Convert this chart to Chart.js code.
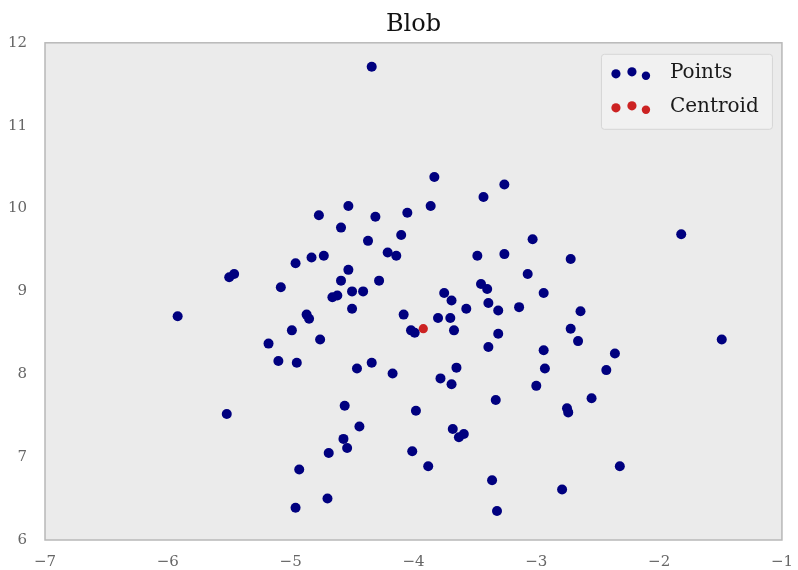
<!DOCTYPE html>
<html>
<head>
<meta charset="utf-8">
<title>Blob</title>
<script src="https://cdn.jsdelivr.net/npm/chart.js@4/dist/chart.umd.min.js"></script>
<style>
  html, body { margin: 0; padding: 0; background: #fff; }
  #wrap { width: 798px; height: 570px; }
</style>
</head>
<body>
<div id="wrap"><canvas id="chart" width="798" height="570"></canvas></div>
<script>
// ── Data ────────────────────────────────────────────────────────
const POINTS_X = [
  -4.34, -4.77, -4.53, -4.31, -4.59, -4.37, -4.10, -4.05, -3.86, -3.83,
  -4.21, -4.14, -4.96, -4.83, -4.73, -5.50, -5.46, -4.53, -4.59, -4.28,
  -5.08, -4.50, -4.41, -4.66, -4.62, -4.50, -5.92, -4.87, -4.85, -4.99,
  -5.18, -4.76, -5.10, -4.95, -4.46, -4.34, -4.17, -4.08, -5.52, -4.56,
  -4.44, -4.57, -4.54, -4.69, -4.93, -4.70, -4.96, -3.07, -3.45, -3.40,
  -2.94, -3.75, -3.69, -3.57, -3.39, -3.31, -3.14, -2.64, -3.80, -3.70,
  -4.02, -3.99, -3.67, -3.31, -2.72, -2.66, -1.49, -3.39, -2.94, -2.36,
  -3.65, -2.93, -2.43, -3.78, -3.69, -3.00, -2.55, -3.33, -3.98, -2.75,
  -2.74, -3.68, -3.63, -3.59, -4.01, -3.88, -2.32, -3.36, -2.79, -3.32,
  -3.26, -3.43, -3.03, -1.82, -3.48, -3.26, -2.72
];
const POINTS_Y = [
  11.71, 9.92, 10.03, 9.90, 9.77, 9.61, 9.68, 9.95, 10.03, 10.38,
  9.47, 9.43, 9.34, 9.41, 9.43, 9.17, 9.21, 9.26, 9.13, 9.13,
  9.05, 9.00, 9.00, 8.93, 8.95, 8.79, 8.70, 8.72, 8.67, 8.53,
  8.37, 8.42, 8.16, 8.14, 8.07, 8.14, 8.01, 8.72, 7.52, 7.62,
  7.37, 7.22, 7.11, 7.05, 6.85, 6.50, 6.39, 9.21, 9.09, 9.03,
  8.98, 8.98, 8.89, 8.79, 8.86, 8.77, 8.81, 8.76, 8.68, 8.68,
  8.53, 8.50, 8.53, 8.49, 8.55, 8.40, 8.42, 8.33, 8.29, 8.25,
  8.08, 8.07, 8.05, 7.95, 7.88, 7.86, 7.71, 7.69, 7.56, 7.59,
  7.54, 7.34, 7.24, 7.28, 7.07, 6.89, 6.89, 6.72, 6.61, 6.35,
  10.29, 10.14, 9.63, 9.69, 9.43, 9.45, 9.39
];
const CENTROID_X = [-3.92];
const CENTROID_Y = [8.55];

const X_TICKS = [-7, -6, -5, -4, -3, -2, -1];
const Y_TICKS = [6, 7, 8, 9, 10, 11, 12];
const SERIES_LABELS = ['Points', 'Centroid'];

// ── Styling ─────────────────────────────────────────────────────
const SERIF = '"DejaVu Serif", serif';
const BLUE = '#00007f';
const RED  = '#cc2222';

function toXY(xs, ys) {
  return xs.map(function (x, i) { return { x: x, y: ys[i] }; });
}

function minus(v) {
  return String(v).replace('-', '\u2212');
}

// ── Plot background + frame ─────────────────────────────────────
const framePlugin = {
  id: 'frame',
  beforeDatasetsDraw: function (chart) {
    const a = chart.chartArea, ctx = chart.ctx;
    ctx.save();
    ctx.fillStyle = '#ebebeb';
    ctx.fillRect(a.left, a.top, a.right - a.left, a.bottom - a.top);
    ctx.strokeStyle = '#b8b8b8';
    ctx.lineWidth = 1.5;
    ctx.strokeRect(a.left, a.top, a.right - a.left, a.bottom - a.top);
    ctx.restore();
  }
};

// ── Matplotlib-like legend with 3 scatter dots per entry ────────
const legendPlugin = {
  id: 'dotsLegend',
  afterDatasetsDraw: function (chart) {
    const a = chart.chartArea, ctx = chart.ctx;
    const w = 171, h = 75;
    const x0 = a.right - 10 - w, y0 = a.top + 11;
    ctx.save();
    ctx.fillStyle = 'rgba(242,242,242,0.9)';
    ctx.strokeStyle = '#d6d6d6';
    ctx.lineWidth = 1;
    ctx.beginPath();
    ctx.roundRect(x0 + 0.5, y0 + 0.5, w, h, 3);
    ctx.fill();
    ctx.stroke();

    const offs = [2, 0, 4];          // matplotlib style staggered dots
    const rads = [4.6, 4.6, 4.2];
    chart.data.datasets.forEach(function (ds, i) {
      const cy = y0 + 18 + i * 34;
      [15, 31, 45].forEach(function (dx, k) {
        ctx.beginPath();
        ctx.fillStyle = ds.backgroundColor;
        ctx.arc(x0 + dx, cy + offs[k], rads[k], 0, Math.PI * 2);
        ctx.fill();
      });
      ctx.fillStyle = '#1a1a1a';
      ctx.font = '20px ' + SERIF;
      ctx.textBaseline = 'middle';
      ctx.textAlign = 'left';
      ctx.fillText(ds.label, x0 + 69, cy + 1);
    });
    ctx.restore();
  }
};

new Chart(document.getElementById('chart'), {
  type: 'scatter',
  data: {
    datasets: [
      {
        label: SERIES_LABELS[0],
        data: toXY(POINTS_X, POINTS_Y),
        backgroundColor: BLUE,
        borderColor: BLUE,
        pointRadius: 5,
        pointBorderWidth: 0,
        order: 2
      },
      {
        label: SERIES_LABELS[1],
        data: toXY(CENTROID_X, CENTROID_Y),
        backgroundColor: RED,
        borderColor: RED,
        pointRadius: 4.6,
        pointBorderWidth: 0,
        order: 1
      }
    ]
  },
  options: {
    responsive: false,
    animation: false,
    events: [],
    layout: { padding: { right: 10, top: 0, left: 0, bottom: 0 } },
    plugins: {
      legend: { display: false },
      tooltip: { enabled: false },
      title: {
        display: true,
        text: 'Blob',
        fullSize: false,
        color: '#111',
        font: { family: SERIF, size: 24, weight: 'normal' },
        padding: { top: 10, bottom: 4 }
      }
    },
    scales: {
      x: {
        type: 'linear',
        min: X_TICKS[0],
        max: X_TICKS[X_TICKS.length - 1],
        afterBuildTicks: function (s) { s.ticks = X_TICKS.map(function (v) { return { value: v }; }); },
        afterFit: function (s) { s.height = 30; },
        grid: { display: false },
        border: { display: false },
        ticks: {
          padding: 5,
          color: '#666',
          font: { family: SERIF, size: 15 },
          callback: function (v) { return minus(v); }
        }
      },
      y: {
        type: 'linear',
        min: Y_TICKS[0],
        max: Y_TICKS[Y_TICKS.length - 1],
        afterBuildTicks: function (s) { s.ticks = Y_TICKS.map(function (v) { return { value: v }; }); },
        afterFit: function (s) { s.width = 45; },
        grid: { display: false },
        border: { display: false },
        ticks: {
          padding: 10,
          color: '#666',
          font: { family: SERIF, size: 15 },
          callback: function (v) { return minus(v); }
        }
      }
    }
  },
  plugins: [framePlugin, legendPlugin]
});
</script>
</body>
</html>
